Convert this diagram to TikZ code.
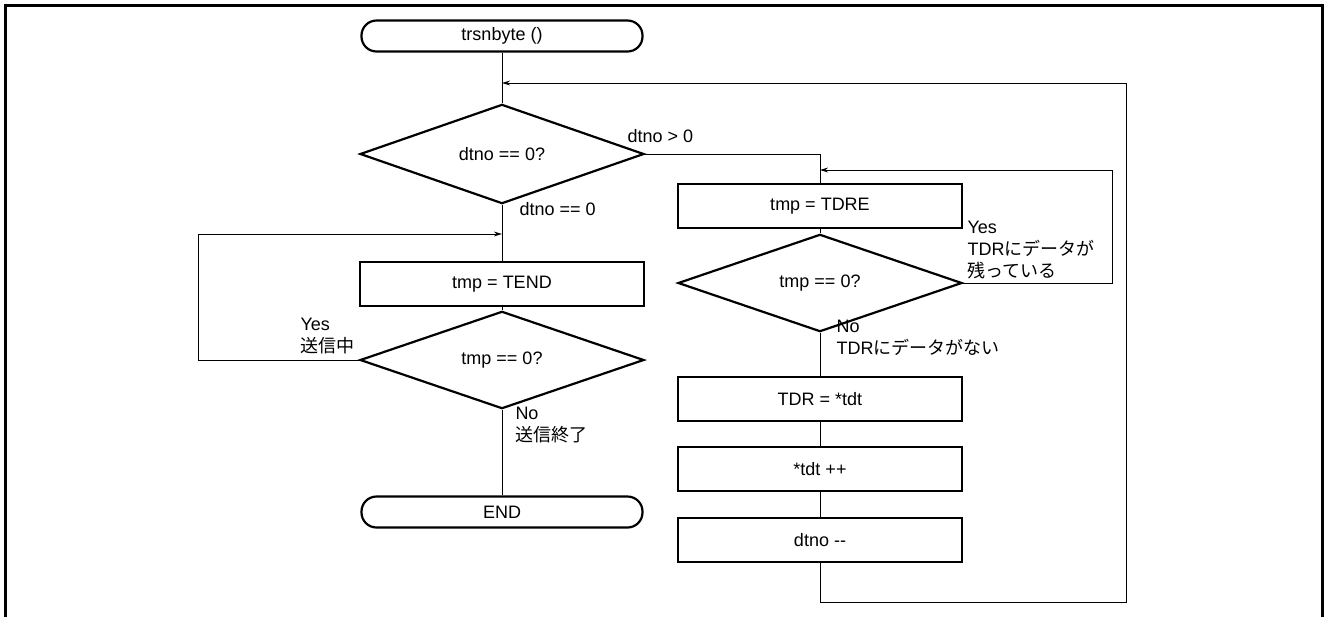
\documentclass[tikz,border=0pt]{standalone}
\usepackage{fontspec}
\setmainfont{Liberation Sans}
\newfontfamily\jp{Noto Sans CJK JP}
\usetikzlibrary{shapes.geometric, arrows.meta}

\begin{document}
\begin{tikzpicture}[x=0.5pt, y=-0.5pt, >={Stealth[length=4pt, width=2.4pt]},
    line width=0.5pt, font=\fontsize{9}{11}\selectfont,
    term/.style={draw, line width=1.1pt, rounded corners=7.5pt, minimum width=140.5pt, minimum height=15.5pt, inner sep=0pt},
    proc/.style={draw, line width=1.1pt, minimum width=142pt, minimum height=22pt, inner sep=0pt},
    cond/.style={draw, diamond, line width=1.1pt, minimum width=142pt, inner sep=0pt},
    lbl/.style={anchor=west, align=left, inner sep=0pt}]
    \useasboundingbox (0,0) rectangle (1324,617);

    % 外枠 (下は開いている)
    \draw[line width=1.5pt] (5,617) -- (5,5) -- (1322,5) -- (1322,617);

    % 左の列
    \node[term] (start) at (502,36) {trsnbyte ()};
    \node[cond, minimum height=45.5pt] (chkno) at (502,154) {dtno == 0?};
    \node[proc] (tend) at (502,284) {tmp = TEND};
    \node[cond, minimum height=37pt] (chkend) at (502,360) {tmp == 0?};
    \node[term] (stop) at (502,512) {END};

    % 右の列
    \node[proc] (tdre) at (820,206) {tmp = TDRE};
    \node[cond, minimum height=37pt] (chkre) at (820,283) {tmp == 0?};
    \node[proc] (put) at (820,399) {TDR = *tdt};
    \node[proc] (inc) at (820,469) {*tdt ++};
    \node[proc] (dec) at (820,540) {dtno -{}-};

    % 分岐ラベル
    \node[lbl] (gt) at (627,136) {dtno > 0};
    \node[lbl] (eq) at (519,209) {dtno == 0};
    \node[lbl] (reyes) at (967,250) {Yes\\TDR{\jp にデータが}\\{\jp 残っている}};
    \node[lbl] (reno) at (836,338) {No\\TDR{\jp にデータがない}};
    \node[lbl] (endyes) at (300,336) {Yes\\{\jp 送信中}};
    \node[lbl] (endno) at (515,425) {No\\{\jp 送信終了}};

    % 合流点
    \coordinate (top) at (502,83);
    \coordinate (mid) at (502,234);
    \coordinate (right) at (820,170);

    % 接続線
    \draw (start) -- (chkno);
    \draw (chkno) -- (tend);
    \draw (tend) -- (chkend);
    \draw (chkend) -- (stop);
    \draw (chkno.east) -| (tdre.north);
    \draw (tdre) -- (chkre);
    \draw (chkre) -- (put);
    \draw (put) -- (inc);
    \draw (inc) -- (dec);

    % ループ
    \draw[->] (chkend.west) -- (198,360) -- (198,234) -- (mid);
    \draw[->] (chkre.east) -- (1112,283) -- (1112,170) -- (right);
    \draw[->] (dec.south) |- (1126,602) |- (top);
\end{tikzpicture}
\end{document}
